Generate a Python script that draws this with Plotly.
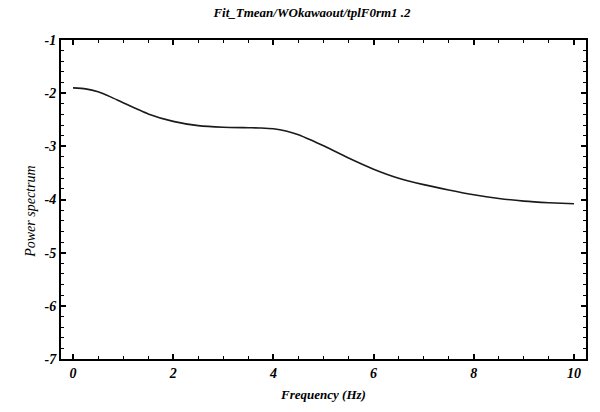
import plotly.graph_objects as go

# Fitted power spectrum (log scale) sampled along frequency
freq_hz = [0.0, 0.25, 0.5, 0.75, 1.0, 1.5, 2.0, 2.5, 3.0, 3.5, 3.75, 4.0, 4.25, 4.5, 4.75, 5.0,
           5.5, 6.0, 6.5, 7.0, 7.5, 8.0, 8.5, 9.0, 9.5, 10.0]
power = [-1.90, -1.92, -1.975, -2.07, -2.18, -2.39, -2.53, -2.61, -2.64, -2.65, -2.655, -2.67,
         -2.71, -2.78, -2.88, -2.99, -3.22, -3.43, -3.60, -3.72, -3.82, -3.91, -3.98, -4.03,
         -4.06, -4.08]

x_ticks = [0, 2, 4, 6, 8, 10]
y_ticks = [-1, -2, -3, -4, -5, -6, -7]

serif = "Liberation Serif, Times New Roman, serif"

fig = go.Figure()
fig.add_trace(go.Scatter(
    x=freq_hz, y=power, mode="lines",
    line=dict(color="#1a1a1a", width=1.6, shape="spline", smoothing=0.6),
    showlegend=False, hoverinfo="skip",
))

axis_common = dict(
    showline=True, linecolor="black", linewidth=2, mirror="ticks",
    ticks="inside", ticklen=5, tickwidth=1.5, tickcolor="black",
    showgrid=False, zeroline=False,
    tickfont=dict(family=serif, size=14, color="black", weight="bold", style="italic"),
)

fig.update_layout(
    width=600, height=412,
    margin=dict(l=61, r=12, t=40, b=49),
    paper_bgcolor="white", plot_bgcolor="white",
    title=dict(
        text="<b><i>Fit_Tmean/WOkawaout/tplF0rm1 .2</i></b>",
        font=dict(family=serif, size=13, color="black"),
        x=0.52, xanchor="center", y=0.97, yanchor="middle",
    ),
    xaxis=dict(
        range=[-0.24, 10.24], tickvals=x_ticks, ticktext=[str(v) for v in x_ticks],
        minor=dict(ticks="inside", ticklen=3, tickwidth=1, tickcolor="black", dtick=0.5),
        title=dict(text="<b><i>Frequency (Hz)</i></b>", standoff=10,
                   font=dict(family=serif, size=13, color="black")),
        **axis_common,
    ),
    yaxis=dict(
        range=[-7, -1], tickvals=y_ticks, ticktext=[str(v) for v in y_ticks],
        minor=dict(ticks="inside", ticklen=3, tickwidth=1, tickcolor="black", dtick=0.2),
        **axis_common,
    ),
    annotations=[dict(
        text="<i>Power spectrum</i>", textangle=-90,
        xref="paper", yref="paper", x=-0.058, y=0.46,
        xanchor="center", yanchor="middle", showarrow=False,
        font=dict(family=serif, size=14, color="black"),
    )],
)

fig.write_html("out.html")
